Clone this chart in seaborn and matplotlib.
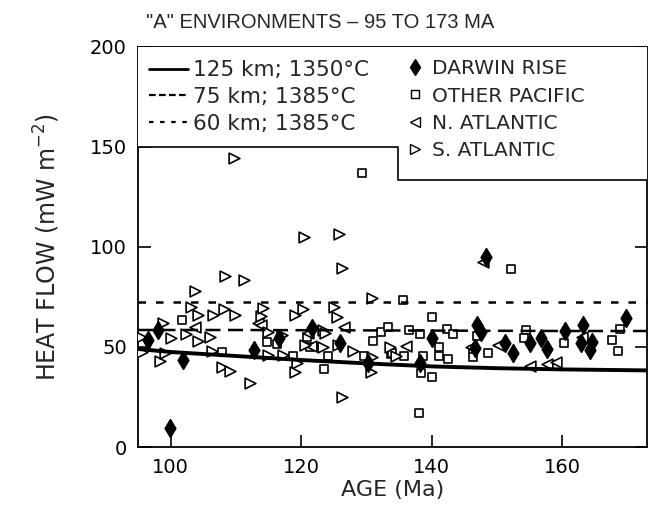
import matplotlib
matplotlib.use("Agg")
import matplotlib.pyplot as plt
import seaborn as sns
import pandas as pd
from matplotlib.lines import Line2D

sns.set_theme(style="ticks")
plt.rcParams['font.family'] = ['Liberation Sans', 'DejaVu Sans']

# ---- model curves ----
model_age = [95, 100, 110, 120, 130, 140, 150, 160, 173]
hf_125km_1350 = [49.0, 47.5, 45.5, 43.5, 41.8, 40.3, 39.4, 38.8, 38.3]
hf_75km_1385 = [58.5, 58.5, 58.5, 58.4, 58.3, 58.2, 58.1, 58.0, 58.0]
hf_60km_1385 = [72.5, 72.5, 72.5, 72.5, 72.5, 72.5, 72.5, 72.5, 72.5]

# ---- observations ----
darwin_age = [96.5, 98.1, 99.9, 101.9, 112.8, 116.6, 121.6, 125.9, 130.2, 138.2, 140.0,
              146.9, 147.6, 146.6, 148.4, 151.2, 152.4, 155.0, 156.8, 157.7, 160.5,
              163.2, 162.9, 164.6, 164.2, 169.8]
darwin_hf = [53.5, 58.5, 9.5, 43.5, 48.5, 54.5, 59.5, 52.0, 42.0, 42.0, 54.5,
             61.0, 57.5, 49.5, 95.0, 52.0, 47.0, 52.0, 54.5, 49.0, 58.0,
             61.0, 52.0, 52.5, 48.5, 64.5]

pacific_age = [101.8, 107.9, 114.7, 116.3, 118.7, 120.9, 121.3, 124.1, 123.5, 129.4,
               129.7, 131.0, 132.3, 133.3, 133.7, 134.0, 135.6, 135.7, 136.5, 138.2,
               138.6, 138.3, 140.0, 138.0, 140.1, 141.2, 141.2, 142.5, 142.4, 143.2,
               147.0, 146.3, 146.3, 148.6, 152.2, 154.4, 154.1, 160.3, 167.7, 168.5,
               168.8]
pacific_hf = [63.5, 47.5, 52.5, 51.5, 45.5, 55.0, 50.0, 45.5, 39.0, 137.0,
              45.5, 53.0, 57.5, 60.0, 46.5, 47.0, 73.5, 45.5, 58.5, 56.5,
              45.5, 37.0, 35.0, 17.0, 65.0, 50.0, 45.5, 44.0, 59.0, 56.5,
              55.5, 48.5, 45.0, 47.0, 89.0, 58.5, 54.5, 52.0, 53.5, 48.0,
              59.0]

natl_age = [103.7, 113.4, 113.9, 121.0, 121.5, 126.5, 136.0, 146.1, 147.9, 150.1,
            155.0, 157.7, 159.1, 163.1]
natl_hf = [60.0, 62.0, 61.0, 57.0, 50.5, 60.0, 50.5, 50.0, 92.5, 51.0,
           40.5, 41.5, 42.5, 55.0]

satl_age = [95.5, 95.6, 98.4, 99.1, 98.9, 100.0, 102.4, 103.7, 103.1, 104.2,
            104.2, 106.1, 106.5, 106.4, 108.2, 108.3, 107.9, 109.1, 109.8, 109.7,
            111.3, 112.2, 113.8, 114.1, 114.9, 115.0, 117.2, 117.0, 119.0, 119.3,
            119.0, 120.3, 120.4, 120.6, 123.3, 123.3, 123.6, 125.1, 125.5, 125.6,
            125.8, 126.3, 126.2, 128.0, 130.8, 130.8, 130.7, 133.6, 134.5]
satl_hf = [55.0, 47.5, 43.0, 47.0, 62.0, 54.5, 56.5, 78.0, 70.0, 66.0,
           53.0, 55.0, 66.0, 48.0, 69.0, 85.5, 40.0, 38.0, 66.0, 144.5,
           83.5, 32.0, 65.5, 69.5, 57.5, 46.0, 46.0, 56.0, 66.0, 42.0,
           37.5, 69.0, 105.0, 51.0, 58.5, 50.0, 57.0, 70.0, 65.0, 51.0,
           106.5, 89.5, 25.0, 48.0, 74.5, 45.0, 37.5, 50.0, 45.5]

x_ticks = [100, 120, 140, 160]
y_ticks = [0, 50, 100, 150, 200]

fig = plt.figure(figsize=(6.53, 5.09), dpi=100)
ax = fig.add_axes([0.2113, 0.1218, 0.7795, 0.7859])

DV = ['DejaVu Sans']
mk = dict(linewidth=1.2, zorder=3, legend=False, edgecolor="black")
sns.scatterplot(x=pacific_age, y=pacific_hf, marker="s", s=34, facecolor="white", ax=ax, **mk)
sns.scatterplot(x=natl_age, y=natl_hf, marker="<", s=60, facecolor="white", ax=ax, **mk)
sns.scatterplot(x=satl_age, y=satl_hf, marker=">", s=60, facecolor="white", ax=ax, **mk)
sns.scatterplot(x=darwin_age, y=darwin_hf, marker="d", s=80, facecolor="black", ax=ax, **mk)

sns.lineplot(x=model_age, y=hf_125km_1350, color="black", linewidth=2.8, ax=ax, zorder=4)
sns.lineplot(x=model_age, y=hf_75km_1385, color="black", linewidth=1.8, ax=ax, zorder=4,
             linestyle=(0, (6, 3)))
sns.lineplot(x=model_age, y=hf_60km_1385, color="black", linewidth=1.8, ax=ax, zorder=4,
             linestyle=(0, (3, 4)))

ax.set_xlim(95, 173)
ax.set_ylim(0, 200)
ax.set_xticks(x_ticks)
ax.set_yticks(y_ticks)
ax.tick_params(direction="in", length=9, width=1.2, pad=8,
               left=True, right=True, bottom=True, top=False, colors="black")
for lab in ax.get_xticklabels() + ax.get_yticklabels():
    lab.set_fontfamily(DV)
    lab.set_fontsize(14)
for sp in ax.spines.values():
    sp.set_visible(True)
    sp.set_linewidth(1.3)
    sp.set_color("black")

ax.set_xlabel("AGE (Ma)", fontsize=16, family=DV, labelpad=2)
ax.set_ylabel("HEAT FLOW (mW m$^{-2}$)", fontsize=17, family=DV, labelpad=20)
fig.text(0.49, 0.955, '"A" ENVIRONMENTS \u2013 95 TO 173 MA', fontsize=14.5,
         ha="center", va="center")

# legend frame (stepped box)
frame_x = [95, 95, 134.8, 134.8, 173, 173]
frame_y = [200, 150, 150, 133.5, 133.5, 200]
ax.fill(frame_x, frame_y, facecolor="white", edgecolor="none", zorder=5)
ax.plot([95, 134.8, 134.8, 173], [150, 150, 133.5, 133.5], color="black", lw=1.2, zorder=6)

line_handles = [
    Line2D([], [], color="black", lw=2.0),
    Line2D([], [], color="black", lw=1.6, linestyle=(0, (3, 1.5))),
    Line2D([], [], color="black", lw=1.6, linestyle=(0, (2, 3))),
]
line_labels = ["125 km; 1350°C", "75 km; 1385°C", "60 km; 1385°C"]
leg1 = ax.legend(line_handles, line_labels, loc="upper left", bbox_to_anchor=(-0.008, 1.005),
                 frameon=False, prop={'family': DV, 'size': 15.5}, handlelength=1.8,
                 handletextpad=0.25, labelspacing=0.32, borderaxespad=0.3)
leg1.set_zorder(7)
ax.add_artist(leg1)

mark_handles = [
    Line2D([], [], marker="d", color="black", linestyle="none", markersize=8),
    Line2D([], [], marker="s", markerfacecolor="white", markeredgecolor="black",
           linestyle="none", markersize=5.5),
    Line2D([], [], marker="<", markerfacecolor="white", markeredgecolor="black",
           linestyle="none", markersize=7),
    Line2D([], [], marker=">", markerfacecolor="white", markeredgecolor="black",
           linestyle="none", markersize=7),
]
mark_labels = ["DARWIN RISE", "OTHER PACIFIC", "N. ATLANTIC", "S. ATLANTIC"]
leg2 = ax.legend(mark_handles, mark_labels, loc="upper left", bbox_to_anchor=(0.5, 1.005),
                 frameon=False, prop={'family': DV, 'size': 14.5}, handlelength=0.8,
                 handletextpad=0.45, labelspacing=0.42, borderaxespad=0.3)
leg2.set_zorder(7)

fig.savefig("out.png", dpi=100)
